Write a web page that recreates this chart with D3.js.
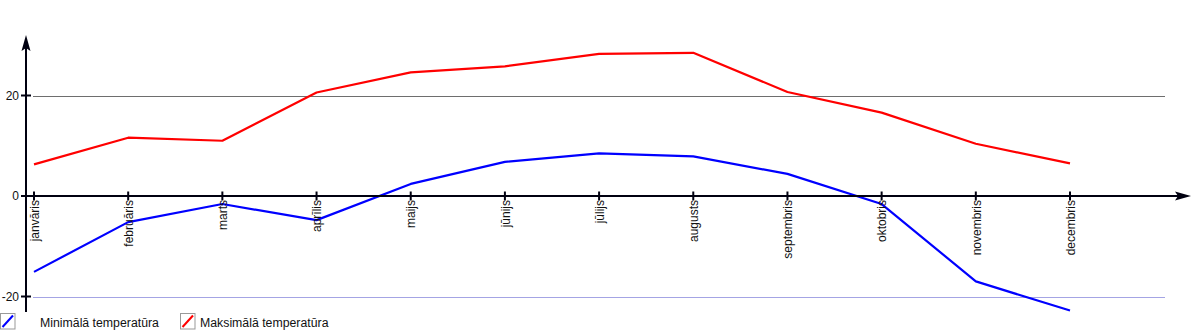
<!DOCTYPE html>
<html>
<head>
<meta charset="utf-8">
<script src="https://cdn.jsdelivr.net/npm/d3@7"></script>
<style>
  html, body { margin: 0; padding: 0; background: #fff; }
  svg { display: block; font-family: "Liberation Sans", Arial, sans-serif; }
</style>
</head>
<body>
<svg id="chart" width="1200" height="330"></svg>
<script>
const months = ["janvāris","februāris","marts","aprīlis","maijs","jūnijs","jūlijs","augusts","septembris","oktobris","novembris","decembris"];
const maxTemp = [6.3, 11.6, 11.0, 20.6, 24.6, 25.8, 28.3, 28.5, 20.7, 16.6, 10.4, 6.5];
const minTemp = [-15.1, -5.2, -1.6, -4.8, 2.4, 6.8, 8.5, 7.9, 4.4, -1.6, -17.0, -22.8];
const yTicks = [-20, 0, 20];
const gridValues = [20, -20];
const seriesNames = ["Minimālā temperatūra", "Maksimālā temperatūra"];
const seriesColors = ["#0000ff", "#ff0000"];

const svg = d3.select("#chart");
const axisColor = "#000010";

const x = d3.scalePoint().domain(months).range([34, 1070]);
const y = d3.scaleLinear().domain([-20, 20]).range([296.5, 95.5]);

// gridlines
const gridColor = v => v > 0 ? "#6e6e6e" : "#a4a4e4";
svg.append("g").selectAll("line").data(gridValues).join("line")
  .attr("x1", 33).attr("x2", 1165)
  .attr("y1", d => Math.round(y(d)) + 0.5).attr("y2", d => Math.round(y(d)) + 0.5)
  .attr("stroke", d => gridColor(d)).attr("stroke-width", 1);

// data lines
const line = d3.line().x((d, i) => x(months[i])).y(d => y(d));
[minTemp, maxTemp].forEach((s, k) => {
  svg.append("path").datum(s)
    .attr("d", line)
    .attr("fill", "none")
    .attr("stroke", seriesColors[k])
    .attr("stroke-width", 2.2)
    .attr("stroke-linejoin", "round");
});

// x axis line
const y0 = y(0);
svg.append("line").attr("x1", 21).attr("x2", 1180).attr("y1", y0).attr("y2", y0)
  .attr("stroke", axisColor).attr("stroke-width", 2);
svg.append("path")
  .attr("d", `M1191,${y0} L1175,${y0-4.5} L1178,${y0} L1175,${y0+4.5} Z`)
  .attr("fill", axisColor);

// y axis line
const yAxisX = 26;
svg.append("line").attr("x1", yAxisX).attr("x2", yAxisX).attr("y1", 45).attr("y2", 312)
  .attr("stroke", axisColor).attr("stroke-width", 2);
svg.append("path")
  .attr("d", `M${yAxisX},35 L${yAxisX-4.5},51 L${yAxisX},48 L${yAxisX+4.5},51 Z`)
  .attr("fill", axisColor);

// y ticks
const yt = svg.append("g");
yt.selectAll("line").data(yTicks).join("line")
  .attr("x1", 21).attr("x2", 31)
  .attr("y1", d => y(d)).attr("y2", d => y(d))
  .attr("stroke", axisColor).attr("stroke-width", 2);
yt.selectAll("text").data(yTicks).join("text")
  .attr("x", 19).attr("y", d => y(d)).attr("dy", "0.35em")
  .attr("text-anchor", "end").attr("font-size", 12).attr("fill", "#111")
  .text(d => d);

// x ticks
const xt = svg.append("g");
xt.selectAll("line").data(months).join("line")
  .attr("x1", d => x(d)).attr("x2", d => x(d))
  .attr("y1", y0 - 4.5).attr("y2", y0 + 4.5)
  .attr("stroke", axisColor).attr("stroke-width", 2);
xt.selectAll("text").data(months).join("text")
  .attr("transform", d => `translate(${x(d)+0.5},${y0 + 4}) rotate(-90)`)
  .attr("dy", "0.35em")
  .attr("text-anchor", "end").attr("font-size", 12).attr("fill", "#111")
  .text(d => d);

// legend
const legX = [0, 180];
const leg = svg.append("g");
seriesNames.forEach((name, k) => {
  const g = leg.append("g").attr("transform", `translate(${legX[k]},313)`);
  g.append("rect").attr("x", 0.5).attr("y", 0.5).attr("width", 14.5).attr("height", 15.5)
    .attr("fill", "#fff").attr("stroke", "#999").attr("stroke-width", 1);
  g.append("line").attr("x1", 2.5).attr("y1", 14).attr("x2", 13).attr("y2", 2.5)
    .attr("stroke", seriesColors[k]).attr("stroke-width", 2);
  g.append("text").attr("x", k === 0 ? 40 : 20).attr("y", 14)
    .attr("font-size", 12.3).attr("fill", "#111").text(name);
});
</script>
</body>
</html>
